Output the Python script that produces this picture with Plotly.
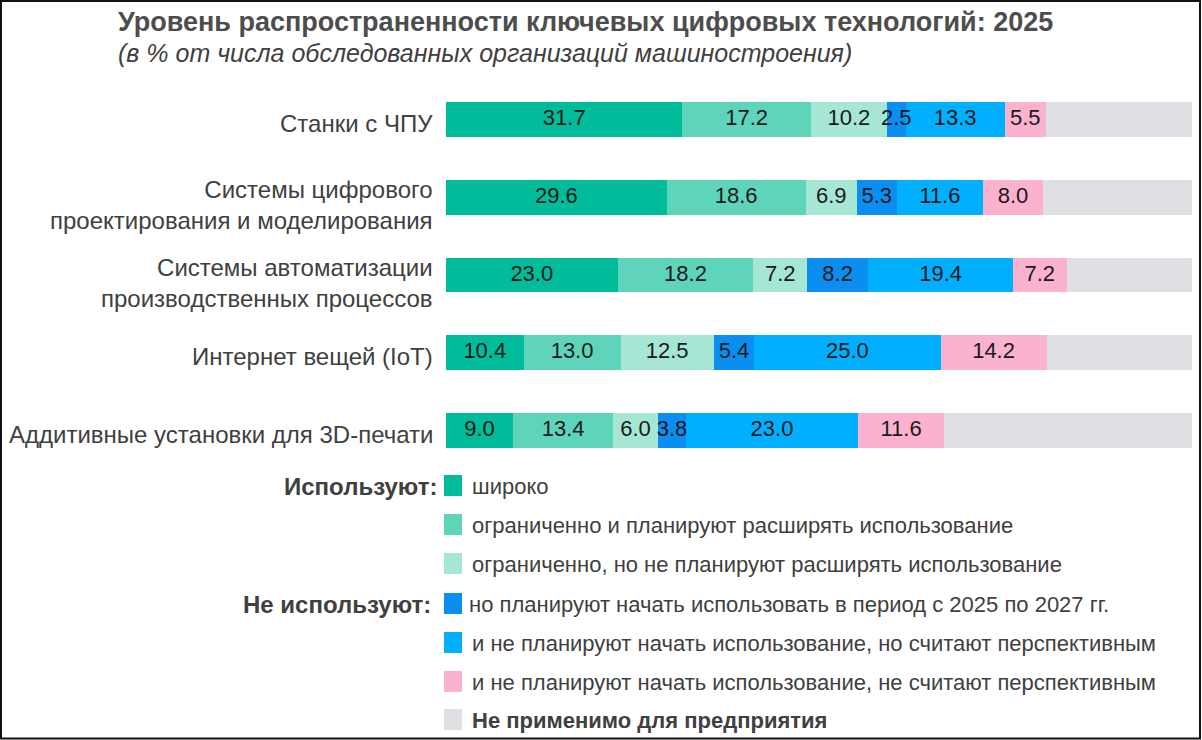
import plotly.graph_objects as go

# ---------------- data ----------------
categories = [
    "Станки с ЧПУ",
    "Системы цифрового<br>проектирования и моделирования",
    "Системы автоматизации<br>производственных процессов",
    "Интернет вещей (IoT)",
    "Аддитивные установки для 3D-печати",
]
wide = [31.7, 29.6, 23.0, 10.4, 9.0]
limited_expand = [17.2, 18.6, 18.2, 13.0, 13.4]
limited_no_expand = [10.2, 6.9, 7.2, 12.5, 6.0]
plan_start = [2.5, 5.3, 8.2, 5.4, 3.8]
no_plan_promising = [13.3, 11.6, 19.4, 25.0, 23.0]
no_plan_not_promising = [5.5, 8.0, 7.2, 14.2, 11.6]
not_applicable = [19.6, 20.0, 16.8, 19.5, 33.2]

series_names = [
    "широко",
    "ограниченно и планируют расширять использование",
    "ограниченно, но не планируют расширять использование",
    "но планируют начать использовать в период с 2025 по 2027 гг.",
    "и не планируют начать использование, но считают перспективным",
    "и не планируют начать использование, не считают перспективным",
    "Не применимо для предприятия",
]
series_values = [wide, limited_expand, limited_no_expand, plan_start,
                 no_plan_promising, no_plan_not_promising, not_applicable]
colors = ["#00BC9B", "#5ED4BA", "#A6E6D5", "#0A8FF0", "#00B0FF", "#FBB2CE", "#DEE0E3"]
show_labels = [True, True, True, True, True, True, False]

title = "Уровень распространенности ключевых цифровых технологий: 2025"
subtitle = "(в % от числа обследованных организаций машиностроения)"
group_labels = ["Используют:", "Не используют:"]

# ---------------- layout geometry ----------------
W, H = 1202, 740
ML, MR, MT, MB = 446, 10, 81, 271
PW = W - ML - MR
PH = H - MT - MB


def px(x):
    return (x - ML) / PW


def py(y):
    return (H - MB - y) / PH


FONT = "Liberation Sans, Arial, sans-serif"
TXT = "#404040"

fig = go.Figure()
for name, vals, col in zip(series_names, series_values, colors):
    fig.add_trace(go.Bar(
        y=categories, x=vals, orientation="h", name=name,
        marker=dict(color=col, line=dict(width=0)),
        showlegend=False,
        hoverinfo="x+name",
    ))

# value labels on top of all bars (centre of each stacked segment)
lab_x, lab_y, lab_t = [], [], []
for j, cat in enumerate(categories):
    start = 0.0
    for vals, lab in zip(series_values, show_labels):
        v = vals[j]
        if lab:
            lab_x.append(start + v / 2)
            lab_y.append(cat)
            lab_t.append(f"{v:.1f}")
        start += v
fig.add_trace(go.Scatter(
    x=lab_x, y=lab_y, text=lab_t, mode="text",
    textposition="middle center",
    textfont=dict(family=FONT, size=22, color="#1a1a1a"),
    showlegend=False, hoverinfo="skip", cliponaxis=False,
))

shapes = []
annotations = []

# category labels (drawn at the y-axis category positions)
for cat in categories:
    multi = "<br>" in cat
    annotations.append(dict(
        xref="paper", yref="y", x=px(435), y=cat,
        xanchor="right", yanchor="middle", align="right", showarrow=False,
        yshift=-8 if multi else -4,
        text=cat, font=dict(family=FONT, size=24, color=TXT)))

# legend built from series names/colours
legend_rows = [486, 525, 564, 604, 643, 682, 720]
for i, (name, col) in enumerate(zip(series_names, colors)):
    yc = legend_rows[i]
    shapes.append(dict(type="rect", xref="paper", yref="paper",
                       x0=px(444), x1=px(462), y0=py(yc + 10), y1=py(yc - 11),
                       fillcolor=col, line=dict(width=0)))
    bold = i == len(series_names) - 1
    annotations.append(dict(
        xref="paper", yref="paper", x=px(470 if i != 3 else 467), y=py(yc),
        xanchor="left", yanchor="middle", showarrow=False,
        text=f"<b>{name}</b>" if bold else name,
        font=dict(family=FONT, size=22, color=TXT)))

annotations.append(dict(xref="paper", yref="paper", x=px(439), y=py(486),
                        xanchor="right", yanchor="middle", showarrow=False,
                        text=f"<b>{group_labels[0]}</b>",
                        font=dict(family=FONT, size=24, color=TXT)))
annotations.append(dict(xref="paper", yref="paper", x=px(433), y=py(604),
                        xanchor="right", yanchor="middle", showarrow=False,
                        text=f"<b>{group_labels[1]}</b>",
                        font=dict(family=FONT, size=24, color=TXT)))

# title & subtitle
annotations.append(dict(xref="paper", yref="paper", x=px(116), y=py(22),
                        xanchor="left", yanchor="middle", showarrow=False,
                        text=f"<b>{title}</b>",
                        font=dict(family=FONT, size=27, color="#4d4d4d")))
annotations.append(dict(xref="paper", yref="paper", x=px(116), y=py(53),
                        xanchor="left", yanchor="middle", showarrow=False,
                        text=f"<i>{subtitle}</i>",
                        font=dict(family=FONT, size=25, color=TXT)))

# outer frame
shapes.append(dict(type="rect", xref="paper", yref="paper",
                   x0=px(1), x1=px(1200), y0=py(738.5), y1=py(1),
                   line=dict(color="#111111", width=2), fillcolor="rgba(0,0,0,0)"))

fig.update_layout(
    width=W, height=H,
    margin=dict(l=ML, r=MR, t=MT, b=MB, pad=0),
    barmode="stack", bargap=0.55,
    plot_bgcolor="white", paper_bgcolor="white",
    font=dict(family=FONT, color=TXT),
    xaxis=dict(range=[0, 100], visible=False, fixedrange=True),
    yaxis=dict(categoryorder="array", categoryarray=categories,
               autorange="reversed", showgrid=False, zeroline=False,
               showline=False, ticks="", showticklabels=False),
    shapes=shapes, annotations=annotations,
    showlegend=False,
)

fig.write_html("out.html",
               config={"displayModeBar": False},
               post_script="document.body.style.margin='0';document.body.style.overflow='hidden';")
